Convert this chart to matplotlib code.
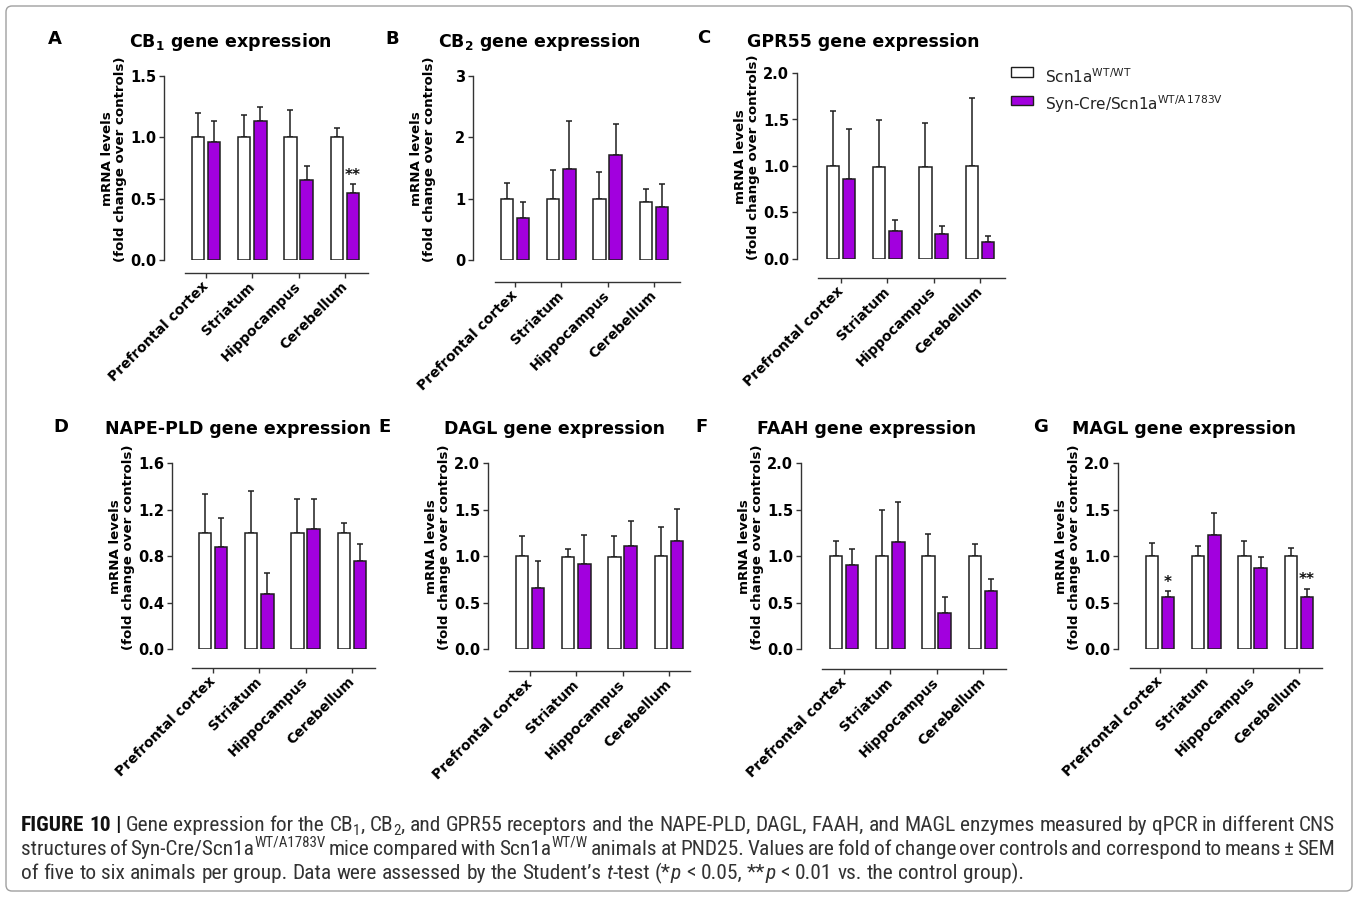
import os
import re
import numpy as np
import matplotlib
matplotlib.use("Agg")
import matplotlib.pyplot as plt
from matplotlib.patches import Rectangle, FancyBboxPatch
from matplotlib.transforms import IdentityTransform
from matplotlib.font_manager import FontProperties, fontManager

# ---------------- data ----------------
regions = ["Prefrontal cortex", "Striatum", "Hippocampus", "Cerebellum"]

cb1_wt = [1.00, 1.00, 1.00, 1.00]
cb1_wt_sem = [0.20, 0.18, 0.22, 0.08]
cb1_mut = [0.96, 1.13, 0.65, 0.55]
cb1_mut_sem = [0.17, 0.12, 0.12, 0.07]
cb1_sig = ["", "", "", "**"]

cb2_wt = [1.00, 1.00, 1.00, 0.94]
cb2_wt_sem = [0.26, 0.47, 0.43, 0.21]
cb2_mut = [0.69, 1.48, 1.71, 0.87]
cb2_mut_sem = [0.26, 0.79, 0.50, 0.37]
cb2_sig = ["", "", "", ""]

gpr55_wt = [1.00, 0.99, 0.99, 1.00]
gpr55_wt_sem = [0.59, 0.50, 0.47, 0.73]
gpr55_mut = [0.86, 0.30, 0.27, 0.18]
gpr55_mut_sem = [0.54, 0.12, 0.08, 0.07]
gpr55_sig = ["", "", "", ""]

nape_wt = [1.00, 1.00, 1.00, 1.00]
nape_wt_sem = [0.33, 0.36, 0.29, 0.08]
nape_mut = [0.88, 0.47, 1.03, 0.76]
nape_mut_sem = [0.25, 0.18, 0.26, 0.14]
nape_sig = ["", "", "", ""]

dagl_wt = [1.00, 0.99, 0.99, 1.00]
dagl_wt_sem = [0.22, 0.08, 0.22, 0.31]
dagl_mut = [0.66, 0.91, 1.11, 1.16]
dagl_mut_sem = [0.29, 0.32, 0.27, 0.35]
dagl_sig = ["", "", "", ""]

faah_wt = [1.00, 1.00, 1.00, 1.00]
faah_wt_sem = [0.16, 0.49, 0.24, 0.125]
faah_mut = [0.90, 1.15, 0.39, 0.625]
faah_mut_sem = [0.17, 0.43, 0.167, 0.125]
faah_sig = ["", "", "", ""]

magl_wt = [1.00, 1.00, 1.00, 1.00]
magl_wt_sem = [0.14, 0.11, 0.165, 0.09]
magl_mut = [0.56, 1.226, 0.875, 0.56]
magl_mut_sem = [0.06, 0.234, 0.115, 0.09]
magl_sig = ["*", "", "", "**"]

titles = ["CB$_\\mathregular{1}$ gene expression", "CB$_\\mathregular{2}$ gene expression",
          "GPR55 gene expression", "NAPE-PLD gene expression", "DAGL gene expression",
          "FAAH gene expression", "MAGL gene expression"]
letters = ["A", "B", "C", "D", "E", "F", "G"]
legend_labels = ["Scn1a$^{\\mathregular{WT/WT}}$", "Syn-Cre/Scn1a$^{\\mathregular{WT/A\\,1783V}}$"]

# ---------------- style ----------------
W, H = 1358, 897
plt.rcParams["font.family"] = ["DejaVu Sans"]
plt.rcParams["mathtext.default"] = "regular"
PURPLE = "#A200DE"
EDGE = "#1e1e1e"
AXC = "#333333"
SP = 46.3      # pixels per category
BW = 0.27
OFF = 0.175
PT = 0.72      # points per pixel at dpi 100

fig = plt.figure(figsize=(W / 100, H / 100), dpi=100)


def fx(x):
    return x / W


def fy(y):
    return 1 - y / H


def panel(box, tick0, xoff, xstart, ymax, yticks, yfmt, wt, wt_sem, mut, mut_sem, sig,
          title, tbase, letter, lxy):
    left, top, right, bottom = box
    ax = fig.add_axes([fx(left), fy(bottom), (right - left) / W, (bottom - top) / H])
    x0 = -(tick0 - left) / SP
    x1 = x0 + (right - left) / SP
    ax.set_xlim(x0, x1)
    ax.set_ylim(0, ymax)
    x = np.arange(len(regions))
    ax.bar(x - OFF, wt, BW, color="white", edgecolor=EDGE, linewidth=1.1, zorder=3)
    ax.bar(x + OFF, mut, BW, color=PURPLE, edgecolor=EDGE, linewidth=1.1, zorder=3)
    ax.errorbar(x - OFF, wt, yerr=[np.zeros(len(x)), wt_sem], fmt="none", ecolor=EDGE,
                elinewidth=1.1, capsize=2.2, capthick=1.1, zorder=2, clip_on=False)
    ax.errorbar(x + OFF, mut, yerr=[np.zeros(len(x)), mut_sem], fmt="none", ecolor=EDGE,
                elinewidth=1.1, capsize=2.2, capthick=1.1, zorder=2, clip_on=False)
    for i, s in enumerate(sig):
        if s:
            ax.annotate(s, (x[i] + OFF, mut[i] + mut_sem[i]), xytext=(0, 1),
                        textcoords="offset points", ha="center", va="bottom",
                        fontsize=11, fontweight="bold", color="#111")
    for sp in ("top", "right"):
        ax.spines[sp].set_visible(False)
    for sp in ("left", "bottom"):
        ax.spines[sp].set_color(AXC)
        ax.spines[sp].set_linewidth(1.0)
    ax.spines["bottom"].set_position(("outward", xoff * PT))
    ax.spines["bottom"].set_bounds((xstart - tick0) / SP, x1)
    ax.set_yticks(yticks)
    ax.set_yticklabels([yfmt.format(v) for v in yticks], fontsize=10.5, fontweight="bold")
    ax.set_xticks(x)
    ax.set_xticklabels(regions, rotation=45, ha="right", va="center",
                       rotation_mode="anchor", fontsize=10, fontweight="bold")
    ax.tick_params(axis="both", length=3.6, width=1.0, color=AXC, direction="out")
    ax.tick_params(axis="x", pad=4.5)
    ax.tick_params(axis="y", pad=2)
    ax.set_ylabel("mRNA levels\n(fold change over controls)", fontsize=9.6,
                  fontweight="bold", linespacing=1.0)
    ax.yaxis.set_label_coords(-37 / (right - left), 0.5 + 9 / (bottom - top))
    fig.text(fx(left + 66), fy(tbase), title, ha="center", va="baseline",
             fontsize=12.5, fontweight="bold")
    fig.text(fx(lxy[0]), fy(lxy[1]), letter, ha="left", va="baseline",
             fontsize=13, fontweight="bold")
    return ax


t15 = [0, 0.5, 1.0, 1.5]
t20 = [0, 0.5, 1.0, 1.5, 2.0]
panel((164, 76, 368, 260), 206, 13, 185, 1.5, t15, "{:.1f}",
      cb1_wt, cb1_wt_sem, cb1_mut, cb1_mut_sem, cb1_sig, titles[0], 47, letters[0], (48, 44))
panel((473, 76, 680, 260), 515, 22, 495, 3, [0, 1, 2, 3], "{:.0f}",
      cb2_wt, cb2_wt_sem, cb2_mut, cb2_mut_sem, cb2_sig, titles[1], 47, letters[1], (385, 44))
panel((797, 73, 1005, 259), 841, 19, 818, 2.0, t20, "{:.1f}",
      gpr55_wt, gpr55_wt_sem, gpr55_mut, gpr55_mut_sem, gpr55_sig, titles[2], 47, letters[2], (697, 43))
panel((172, 463, 375, 649), 213, 19, 192, 1.6, [0, 0.4, 0.8, 1.2, 1.6], "{:.1f}",
      nape_wt, nape_wt_sem, nape_mut, nape_mut_sem, nape_sig, titles[3], 434, letters[3], (53, 432))
panel((488, 463, 690, 649), 530, 22, 509, 2.0, t20, "{:.1f}",
      dagl_wt, dagl_wt_sem, dagl_mut, dagl_mut_sem, dagl_sig, titles[4], 434, letters[4], (378, 432))
panel((801, 463, 1006, 649), 844, 20, 822, 2.0, t20, "{:.1f}",
      faah_wt, faah_wt_sem, faah_mut, faah_mut_sem, faah_sig, titles[5], 434, letters[5], (695, 432))
panel((1118, 463, 1322, 649), 1160, 19, 1130, 2.0, t20, "{:.1f}",
      magl_wt, magl_wt_sem, magl_mut, magl_mut_sem, magl_sig, titles[6], 434, letters[6], (1033, 432))

# ---------------- legend ----------------
for (y0, y1), fc, lab, base in [((67, 77), "white", legend_labels[0], 83),
                                ((96, 105), PURPLE, legend_labels[1], 110)]:
    fig.patches.append(Rectangle((fx(1011), fy(y1)), 22 / W, (y1 - y0) / H, facecolor=fc,
                                 edgecolor=EDGE, linewidth=1.0, transform=fig.transFigure))
    fig.text(fx(1045), fy(base), lab, ha="left", va="baseline", fontsize=11, color="#222")

# ---------------- frame ----------------
fig.patches.append(FancyBboxPatch((6, 6), W - 12, H - 12,
                                  boxstyle="round,pad=0,rounding_size=6",
                                  transform=IdentityTransform(), fill=False,
                                  edgecolor="#a0a0a0", linewidth=1.0))

# ---------------- caption font (prefer a condensed face) ----------------
files = [f.fname for f in fontManager.ttflist]


def find_faces(key):
    cands = [p for p in files if key in os.path.basename(p).lower().replace("-", "").replace("_", "")]
    if not cands:
        return None

    def pick(want_bold, want_ital):
        for p in cands:
            b = os.path.basename(p).lower()
            isb = "bold" in b and "semibold" not in b and "extrabold" not in b
            isi = "italic" in b or "oblique" in b
            bad = any(k in b for k in ("light", "thin", "medium", "black", "semibold", "extrabold"))
            if isb == want_bold and isi == want_ital and not bad:
                return p
        return None

    r = pick(False, False)
    if r is None:
        return None
    return {"r": r, "b": pick(True, False) or r, "i": pick(False, True) or r}


faces = None
for key in ("liberationsansnarrow", "robotocondensed", "dejavusanscondensed", "opensanscondensed"):
    faces = find_faces(key)
    if faces:
        break

renderer = fig.canvas.get_renderer()

cap_lines = [
    [("FIGURE 10 |", "b"), (" Gene expression for the CB", "r"), ("1", "sub"), (", CB", "r"),
     ("2", "sub"), (", and GPR55 receptors and the NAPE-PLD, DAGL, FAAH, and MAGL enzymes "
                    "measured by qPCR in different CNS", "r")],
    [("structures of Syn-Cre/Scn1a", "r"), ("WT/A1783V", "sup"), (" mice compared with Scn1a", "r"),
     ("WT/W", "sup"), (" animals at PND25. Values are fold of change over controls and "
                       "correspond to means \u00b1 SEM", "r")],
    [("of five to six animals per group. Data were assessed by the Student\u2019s ", "r"),
     ("t", "i"), ("-test (*", "r"), ("p", "i"), (" < 0.05, **", "r"), ("p", "i"),
     (" < 0.01 vs. the control group).", "r")],
]
justify = [True, True, False]


def fprop(style, size):
    sz = size * (0.7 if style in ("sub", "sup") else 1.0)
    if faces:
        key = "b" if style == "b" else ("i" if style == "i" else "r")
        return FontProperties(fname=faces[key], size=sz)
    return FontProperties(family="Liberation Sans", size=sz,
                          weight="bold" if style == "b" else "normal",
                          style="italic" if style == "i" else "normal")


def tw(s, fp):
    w1, _, _ = renderer.get_text_width_height_descent("|" + s + "|", fp, ismath=False)
    w0, _, _ = renderer.get_text_width_height_descent("||", fp, ismath=False)
    return w1 - w0


def tokens(line):
    out = []
    for s, st in line:
        for tok in re.split("( )", s):
            if tok:
                out.append((tok, st))
    return out


X0, X1 = 21, 1335
base_size = 10.0
w_line1 = sum(tw(s, fprop(st, base_size)) for s, st in cap_lines[0])
cap_size = base_size * (X1 - X0) / w_line1
cap_px = cap_size / PT

for line, base, just in zip(cap_lines, [831, 855, 879], justify):
    toks = tokens(line)
    natural = sum(tw(t, fprop(st, cap_size)) for t, st in toks)
    nsp = sum(1 for t, _ in toks if t == " ")
    extra = (X1 - X0 - natural) / nsp if (just and nsp) else 0.0
    x = X0
    for t, st in toks:
        fp = fprop(st, cap_size)
        if t == " ":
            x += tw(t, fp) + extra
            continue
        dy = 0
        if st == "sub":
            dy = 0.18 * cap_px
        elif st == "sup":
            dy = -0.42 * cap_px
        col = "#111111" if st == "b" else "#333333"
        fig.text(fx(x), fy(base + dy), t, fontproperties=fp, ha="left", va="baseline", color=col)
        x += tw(t, fp)

fig.savefig("out.png", dpi=100)
